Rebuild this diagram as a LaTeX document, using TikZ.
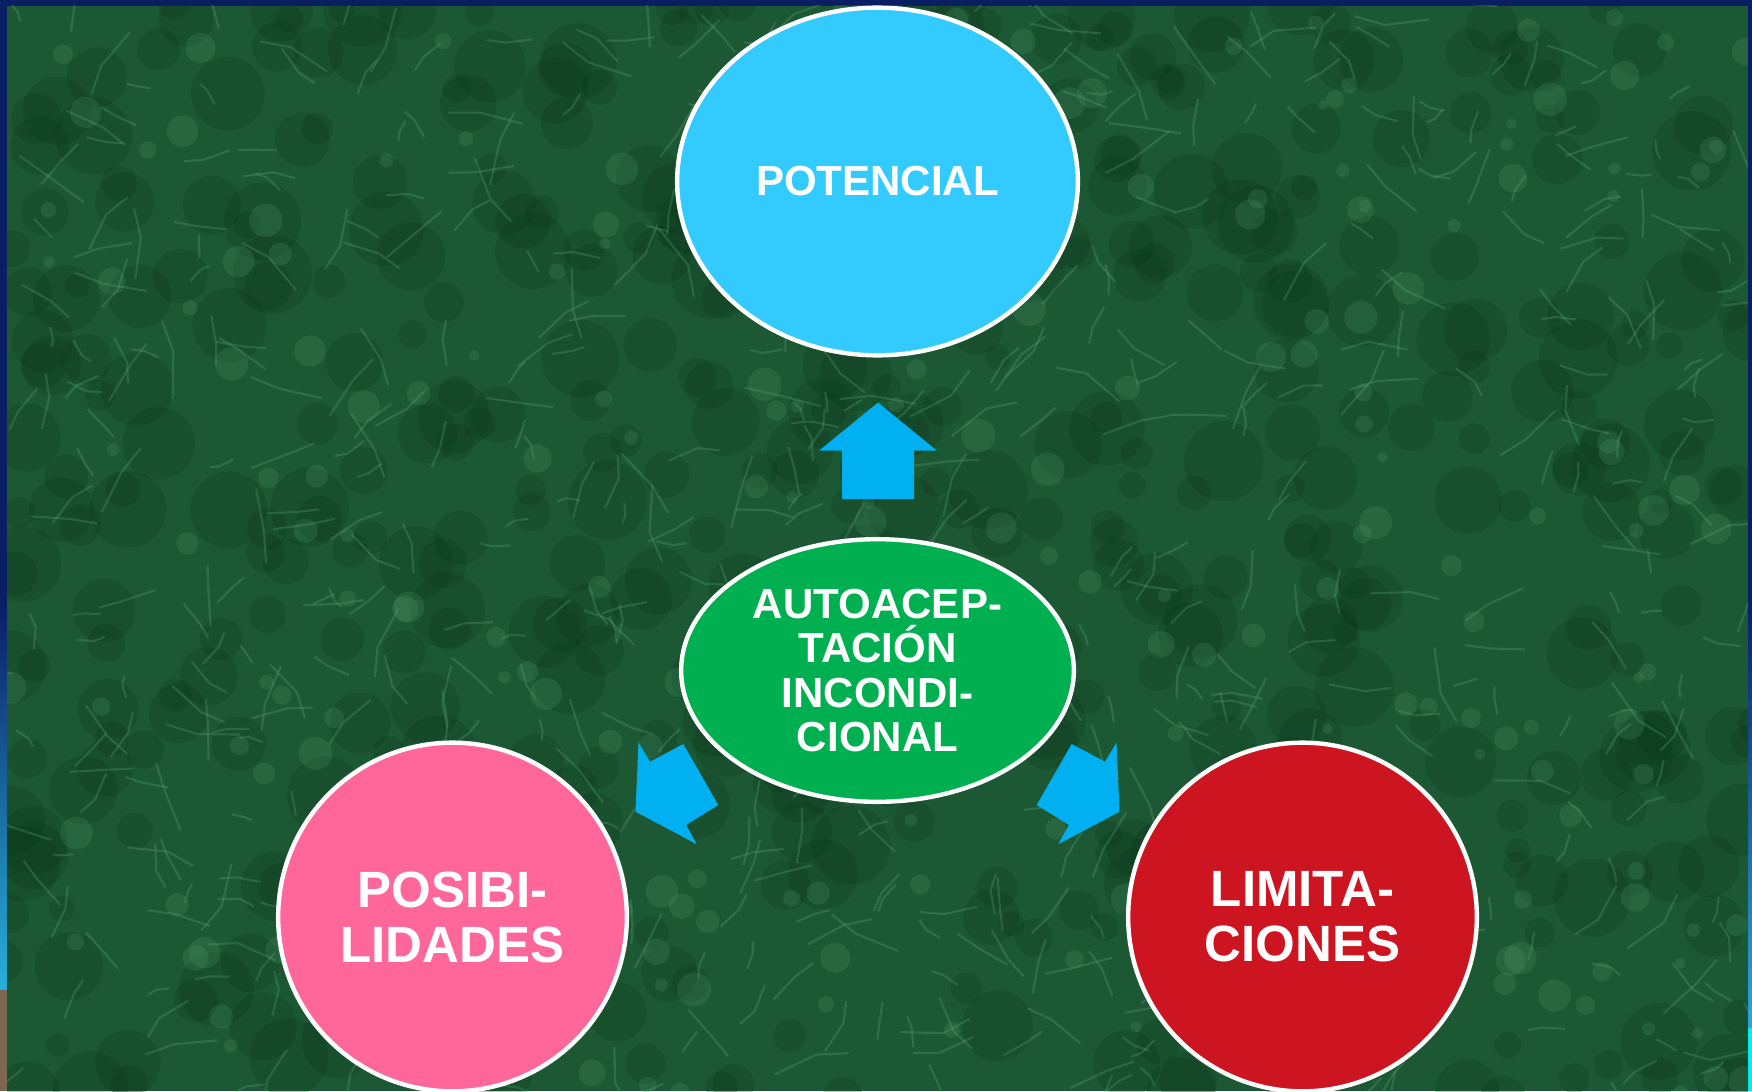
\documentclass[tikz,border=0pt]{standalone}
\usepackage{fontspec}
\setmainfont{Liberation Sans}
\usetikzlibrary{shapes.geometric}
\definecolor{navy}{HTML}{0A1E64}
\definecolor{edgecyanl}{RGB}{40,176,216}
\definecolor{edgecyanr}{RGB}{42,168,216}
\definecolor{edgebrown}{RGB}{125,102,82}
\definecolor{edgeaqua}{RGB}{0,240,240}
\definecolor{bggreen}{HTML}{1D5834}
\definecolor{darkgreen}{HTML}{0A361A}
\definecolor{vein}{HTML}{5DAA7C}
\definecolor{potblue}{HTML}{33CAFF}
\definecolor{centgreen}{HTML}{00B050}
\definecolor{pinkc}{HTML}{FF6699}
\definecolor{redc}{HTML}{CC1520}
\definecolor{arrowblue}{HTML}{00B0F0}
\tikzset{
  bubble/.style={draw=white, line width=1.25pt, text=white, inner sep=0pt, align=center},
  smallfont/.style={font=\fontsize{11.95pt}{12.55pt}\selectfont\bfseries},
  bigfont/.style={font=\fontsize{14.5pt}{15.65pt}\selectfont\bfseries},
  blockarrow/.style={fill=arrowblue}
}
\begin{document}
\begin{tikzpicture}[x=0.01cm, y=-0.01cm]
\useasboundingbox (0,0) rectangle (1752,1091);
% frame
\fill[navy] (0,0) rectangle (1752,1091);
\shade[top color=navy, bottom color=edgecyanl] (0,600) rectangle (7,990);
\fill[edgebrown] (0,990) rectangle (7,1091);
\shade[top color=navy, bottom color=edgecyanr] (1748,600) rectangle (1752,1028);
\fill[edgeaqua] (1748,1028) rectangle (1752,1091);
% marble texture
\begin{scope}
\clip (7,6) rectangle (1748,1091);
\fill[bggreen] (7,6) rectangle (1748,1091);
\pgfmathsetseed{11}
\foreach \i in {1,...,500}{
  \pgfmathsetmacro\cx{1760*rnd}
  \pgfmathsetmacro\cy{1100*rnd}
  \pgfmathsetmacro\rr{12+28*rnd}
  \fill[darkgreen,opacity=0.25] (\cx,\cy) circle[radius=\rr];
}
\foreach \i in {1,...,220}{
  \pgfmathsetmacro\cx{1760*rnd}
  \pgfmathsetmacro\cy{1100*rnd}
  \pgfmathsetmacro\rr{5+12*rnd}
  \fill[vein,opacity=0.18] (\cx,\cy) circle[radius=\rr];
}
\foreach \i in {1,...,600}{
  \pgfmathsetmacro\cx{1760*rnd}
  \pgfmathsetmacro\cy{1100*rnd}
  \pgfmathsetmacro\ang{360*rnd}
  \pgfmathsetmacro\len{12+35*rnd}
  \pgfmathsetmacro\bend{\ang+60*rnd-30}
  \draw[vein,opacity=0.28,line width=0.6pt] (\cx,\cy) -- ++(\ang:\len) -- ++(\bend:\len*0.7);
}
\end{scope}
% arrows
\fill[blockarrow] (878,402.5) -- (937,450.7) -- (914,450.7) -- (914,499) -- (842,499) -- (842,450.7) -- (819,450.7) -- cycle;
\fill[blockarrow] (635.5,811.7) -- (696.7,844.2) -- (686.2,825) -- (718.3,805) -- (683.3,744) -- (650,761.7) -- (638.5,742.7) -- cycle;
\fill[blockarrow] (1119.5,811.7) -- (1058.3,844.2) -- (1068.8,825) -- (1036.7,805) -- (1071.7,744) -- (1105,761.7) -- (1116.5,742.7) -- cycle;
% nodes
\node[bubble, smallfont, ellipse, fill=potblue, minimum width=4.005cm, minimum height=3.475cm] (pot) at (877.5,181.5) {POTENCIAL};
\node[bubble, smallfont, ellipse, fill=centgreen, minimum width=3.925cm, minimum height=2.625cm] (auto) at (877.5,670.5) {AUTOACEP-\\TACIÓN\\INCONDI-\\CIONAL};
\node[bubble, bigfont, circle, fill=pinkc, minimum size=3.485cm] (pos) at (452.5,917) {POSIBI-\\LIDADES};
\node[bubble, bigfont, circle, fill=redc, minimum size=3.485cm] (lim) at (1302.5,917) {LIMITA-\\CIONES};
\end{tikzpicture}
\end{document}
